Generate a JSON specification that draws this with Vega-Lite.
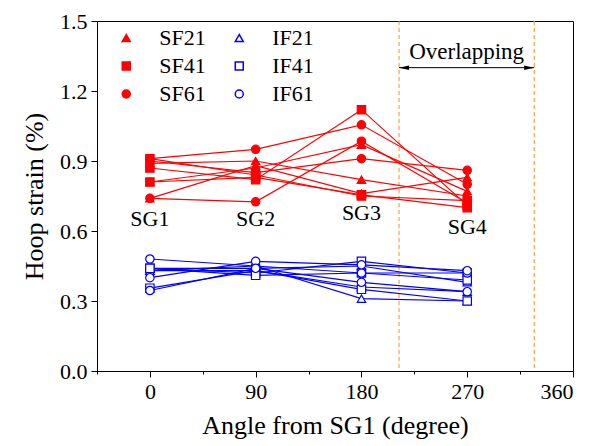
{
  "$schema": "https://vega.github.io/schema/vega-lite/v6.json",
  "width": 476,
  "height": 350,
  "autosize": {"type": "none"},
  "padding": {"left": 97, "top": 21, "right": 18, "bottom": 75},
  "background": "white",
  "config": {
    "view": {"stroke": "black", "strokeWidth": 1},
    "font": "Liberation Serif",
    "axis": {"labelFont": "Liberation Serif", "labelFontSize": 22, "titleFont": "Liberation Serif", "titleFontSize": 26, "titleFontWeight": "normal", "domainColor": "black", "tickColor": "black", "labelColor": "black", "titleColor": "black", "grid": false, "labelPadding": 4, "domainWidth": 1, "tickWidth": 1}
  },
  "datasets": {
    "strain": [
      {"id": "SF21a", "s": "SF21", "a": 0, "v": 0.89}, {"id": "SF21a", "s": "SF21", "a": 90, "v": 0.90}, {"id": "SF21a", "s": "SF21", "a": 180, "v": 0.82}, {"id": "SF21a", "s": "SF21", "a": 270, "v": 0.75},
      {"id": "SF21b", "s": "SF21", "a": 0, "v": 0.81}, {"id": "SF21b", "s": "SF21", "a": 90, "v": 0.87}, {"id": "SF21b", "s": "SF21", "a": 180, "v": 0.97}, {"id": "SF21b", "s": "SF21", "a": 270, "v": 0.77},
      {"id": "SF21c", "s": "SF21", "a": 0, "v": 0.74}, {"id": "SF21c", "s": "SF21", "a": 90, "v": 0.88}, {"id": "SF21c", "s": "SF21", "a": 180, "v": 0.76}, {"id": "SF21c", "s": "SF21", "a": 270, "v": 0.83},
      {"id": "SF41a", "s": "SF41", "a": 0, "v": 0.87}, {"id": "SF41a", "s": "SF41", "a": 90, "v": 0.82}, {"id": "SF41a", "s": "SF41", "a": 180, "v": 1.12}, {"id": "SF41a", "s": "SF41", "a": 270, "v": 0.71},
      {"id": "SF41b", "s": "SF41", "a": 0, "v": 0.81}, {"id": "SF41b", "s": "SF41", "a": 90, "v": 0.83}, {"id": "SF41b", "s": "SF41", "a": 180, "v": 0.755}, {"id": "SF41b", "s": "SF41", "a": 270, "v": 0.70},
      {"id": "SF41c", "s": "SF41", "a": 0, "v": 0.91}, {"id": "SF41c", "s": "SF41", "a": 90, "v": 0.84}, {"id": "SF41c", "s": "SF41", "a": 180, "v": 0.75}, {"id": "SF41c", "s": "SF41", "a": 270, "v": 0.73},
      {"id": "SF61a", "s": "SF61", "a": 0, "v": 0.91}, {"id": "SF61a", "s": "SF61", "a": 90, "v": 0.95}, {"id": "SF61a", "s": "SF61", "a": 180, "v": 1.055}, {"id": "SF61a", "s": "SF61", "a": 270, "v": 0.80},
      {"id": "SF61b", "s": "SF61", "a": 0, "v": 0.74}, {"id": "SF61b", "s": "SF61", "a": 90, "v": 0.725}, {"id": "SF61b", "s": "SF61", "a": 180, "v": 0.985}, {"id": "SF61b", "s": "SF61", "a": 270, "v": 0.72},
      {"id": "SF61c", "s": "SF61", "a": 0, "v": 0.90}, {"id": "SF61c", "s": "SF61", "a": 90, "v": 0.85}, {"id": "SF61c", "s": "SF61", "a": 180, "v": 0.91}, {"id": "SF61c", "s": "SF61", "a": 270, "v": 0.86},
      {"id": "IF21a", "s": "IF21", "a": 0, "v": 0.43}, {"id": "IF21a", "s": "IF21", "a": 90, "v": 0.45}, {"id": "IF21a", "s": "IF21", "a": 180, "v": 0.31}, {"id": "IF21a", "s": "IF21", "a": 270, "v": 0.30},
      {"id": "IF21b", "s": "IF21", "a": 0, "v": 0.44}, {"id": "IF21b", "s": "IF21", "a": 90, "v": 0.44}, {"id": "IF21b", "s": "IF21", "a": 180, "v": 0.45}, {"id": "IF21b", "s": "IF21", "a": 270, "v": 0.38},
      {"id": "IF21c", "s": "IF21", "a": 0, "v": 0.43}, {"id": "IF21c", "s": "IF21", "a": 90, "v": 0.43}, {"id": "IF21c", "s": "IF21", "a": 180, "v": 0.36}, {"id": "IF21c", "s": "IF21", "a": 270, "v": 0.34},
      {"id": "IF41a", "s": "IF41", "a": 0, "v": 0.44}, {"id": "IF41a", "s": "IF41", "a": 90, "v": 0.42}, {"id": "IF41a", "s": "IF41", "a": 180, "v": 0.47}, {"id": "IF41a", "s": "IF41", "a": 270, "v": 0.42},
      {"id": "IF41b", "s": "IF41", "a": 0, "v": 0.355}, {"id": "IF41b", "s": "IF41", "a": 90, "v": 0.43}, {"id": "IF41b", "s": "IF41", "a": 180, "v": 0.35}, {"id": "IF41b", "s": "IF41", "a": 270, "v": 0.30},
      {"id": "IF41c", "s": "IF41", "a": 0, "v": 0.44}, {"id": "IF41c", "s": "IF41", "a": 90, "v": 0.41}, {"id": "IF41c", "s": "IF41", "a": 180, "v": 0.42}, {"id": "IF41c", "s": "IF41", "a": 270, "v": 0.39},
      {"id": "IF61a", "s": "IF61", "a": 0, "v": 0.48}, {"id": "IF61a", "s": "IF61", "a": 90, "v": 0.45}, {"id": "IF61a", "s": "IF61", "a": 180, "v": 0.42}, {"id": "IF61a", "s": "IF61", "a": 270, "v": 0.42},
      {"id": "IF61b", "s": "IF61", "a": 0, "v": 0.40}, {"id": "IF61b", "s": "IF61", "a": 90, "v": 0.47}, {"id": "IF61b", "s": "IF61", "a": 180, "v": 0.455}, {"id": "IF61b", "s": "IF61", "a": 270, "v": 0.43},
      {"id": "IF61c", "s": "IF61", "a": 0, "v": 0.345}, {"id": "IF61c", "s": "IF61", "a": 90, "v": 0.44}, {"id": "IF61c", "s": "IF61", "a": 180, "v": 0.38}, {"id": "IF61c", "s": "IF61", "a": 270, "v": 0.34}
    ]
  },
  "layer": [
    {
      "data": {"values": [{"a": 212}, {"a": 327}]},
      "mark": {"type": "rule", "color": "#FF8C1A", "strokeDash": [4, 3], "strokeWidth": 1},
      "encoding": {
        "x": {"field": "a", "type": "quantitative", "scale": {"domain": [-45, 360], "nice": false, "zero": false},
          "axis": {"title": "Angle from SG1 (degree)", "values": [-45, 0, 45, 90, 135, 180, 225, 270, 315, 360],
            "labelExpr": "(datum.value >= 0 && datum.value % 90 === 0) ? datum.label : ''",
            "tickSize": {"condition": {"test": "datum.value % 90 !== 0", "value": 3}, "value": 6},
            "titlePadding": 10}}
      }
    },
    {
      "data": {"values": [{"a": 212, "a2": 327, "v": 1.30}]},
      "mark": {"type": "rule", "color": "black", "strokeWidth": 1},
      "encoding": {
        "x": {"field": "a", "type": "quantitative"},
        "x2": {"field": "a2"},
        "y": {"field": "v", "type": "quantitative", "scale": {"domain": [0, 1.5], "nice": false},
          "axis": {"title": "Hoop strain (%)", "values": [0, 0.15, 0.3, 0.45, 0.6, 0.75, 0.9, 1.05, 1.2, 1.35, 1.5],
            "labelExpr": "round(datum.value * 100) % 30 === 0 ? format(datum.value, '.1f') : ''",
            "tickSize": {"condition": {"test": "round(datum.value * 100) % 30 !== 0", "value": 3}, "value": 6},
            "titlePadding": 12}}
      }
    },
    {
      "data": {"values": [{"a": 327, "v": 1.30}]},
      "mark": {"type": "point", "shape": "M0,0L-2,-0.45L-2,0.45Z", "size": 100, "filled": true, "color": "black", "opacity": 1},
      "encoding": {"x": {"field": "a", "type": "quantitative"}, "y": {"field": "v", "type": "quantitative"}}
    },
    {
      "data": {"values": [{"a": 212, "v": 1.30}]},
      "mark": {"type": "point", "shape": "M0,0L2,-0.45L2,0.45Z", "size": 100, "filled": true, "color": "black", "opacity": 1},
      "encoding": {"x": {"field": "a", "type": "quantitative"}, "y": {"field": "v", "type": "quantitative"}}
    },
    {
      "data": {"values": [{"a": 269.5, "v": 1.336, "t": "Overlapping"}]},
      "mark": {"type": "text", "font": "Liberation Serif", "fontSize": 23, "baseline": "alphabetic", "align": "center", "color": "black"},
      "encoding": {"x": {"field": "a", "type": "quantitative"}, "y": {"field": "v", "type": "quantitative"}, "text": {"field": "t"}}
    },
    {
      "data": {"name": "strain"},
      "mark": {"type": "line", "strokeWidth": 1.2},
      "encoding": {
        "x": {"field": "a", "type": "quantitative"},
        "y": {"field": "v", "type": "quantitative"},
        "detail": {"field": "id"},
        "stroke": {"field": "s", "type": "nominal",
          "scale": {"domain": ["SF21", "IF21", "SF41", "IF41", "SF61", "IF61"], "range": ["#FF0000", "#0000FF", "#FF0000", "#0000FF", "#FF0000", "#0000FF"]}}
      }
    },
    {
      "data": {"name": "strain"},
      "mark": {"type": "point", "size": 70, "strokeWidth": 1.2, "opacity": 1},
      "encoding": {
        "x": {"field": "a", "type": "quantitative"},
        "y": {"field": "v", "type": "quantitative"},
        "stroke": {"field": "s", "type": "nominal"},
        "fill": {"field": "s", "type": "nominal",
          "scale": {"domain": ["SF21", "IF21", "SF41", "IF41", "SF61", "IF61"], "range": ["#FF0000", "#FFFFFF", "#FF0000", "#FFFFFF", "#FF0000", "#FFFFFF"]}},
        "shape": {"field": "s", "type": "nominal",
          "scale": {"domain": ["SF21", "IF21", "SF41", "IF41", "SF61", "IF61"], "range": ["triangle-up", "triangle-up", "square", "square", "circle", "circle"]},
          "legend": {
            "title": null, "orient": "none", "legendX": 3, "legendY": 6, "columns": 2, "direction": "horizontal", "padding": 0,
            "labelFont": "Liberation Serif", "labelFontSize": 22, "labelColor": "black", "labelLimit": 0,
            "symbolSize": 64, "symbolStrokeWidth": 1.5, "symbolOffset": 15.25, "labelOffset": 22,
            "rowPadding": 6, "columnPadding": 7
          }}
      }
    },
    {
      "data": {"values": [{"a": 0, "v": 0.62, "t": "SG1"}, {"a": 90, "v": 0.62, "t": "SG2"}, {"a": 180, "v": 0.649, "t": "SG3"}, {"a": 270, "v": 0.589, "t": "SG4"}]},
      "mark": {"type": "text", "font": "Liberation Serif", "fontSize": 22, "baseline": "alphabetic", "align": "center", "color": "black"},
      "encoding": {"x": {"field": "a", "type": "quantitative"}, "y": {"field": "v", "type": "quantitative"}, "text": {"field": "t"}}
    }
  ]
}
